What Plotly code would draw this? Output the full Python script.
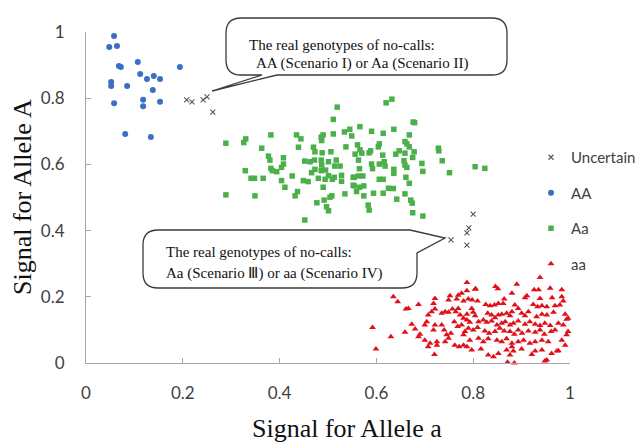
import plotly.graph_objects as go

# ---------------- data ----------------
unc_x = [0.208, 0.219, 0.242, 0.250, 0.262, 0.754, 0.787, 0.791, 0.787, 0.800]
unc_y = [0.795, 0.789, 0.795, 0.804, 0.758, 0.372, 0.393, 0.408, 0.356, 0.450]

AA_x = [0.058, 0.048, 0.064, 0.068, 0.072, 0.107, 0.194, 0.112, 0.126, 0.140,
        0.153, 0.052, 0.052, 0.085, 0.138, 0.058, 0.118, 0.118, 0.153, 0.081,
        0.134]
AA_y = [0.988, 0.955, 0.958, 0.897, 0.894, 0.909, 0.894, 0.873, 0.858, 0.867,
        0.858, 0.849, 0.837, 0.837, 0.825, 0.785, 0.795, 0.776, 0.789, 0.692,
        0.683]

Aa_x = [0.519, 0.511, 0.289, 0.326, 0.330, 0.382, 0.435, 0.444, 0.490, 0.486,
        0.487, 0.511, 0.534, 0.545, 0.549, 0.363, 0.377, 0.380, 0.408, 0.439,
        0.470, 0.473, 0.488, 0.506, 0.537, 0.329, 0.341, 0.348, 0.366, 0.382,
        0.385, 0.394, 0.408, 0.404, 0.426, 0.452, 0.463, 0.472, 0.486, 0.487,
        0.501, 0.517, 0.514, 0.525, 0.473, 0.466, 0.486, 0.495, 0.501, 0.513,
        0.528, 0.552, 0.404, 0.411, 0.449, 0.459, 0.480, 0.494, 0.509, 0.528,
        0.490, 0.552, 0.289, 0.349, 0.432, 0.437, 0.508, 0.504, 0.492, 0.477,
        0.497, 0.501, 0.535, 0.452,
        0.620, 0.632, 0.676, 0.679, 0.566, 0.590, 0.614, 0.636, 0.668, 0.561,
        0.566, 0.570, 0.556, 0.585, 0.588, 0.606, 0.604, 0.613, 0.640, 0.647,
        0.659, 0.663, 0.668, 0.678, 0.659, 0.675, 0.728, 0.729, 0.736, 0.694,
        0.696, 0.751, 0.804, 0.824, 0.563, 0.590, 0.592, 0.606, 0.616, 0.618,
        0.636, 0.636, 0.657, 0.659, 0.663, 0.565, 0.554, 0.563, 0.572, 0.606,
        0.614, 0.661, 0.668, 0.554, 0.565, 0.574, 0.559, 0.625, 0.635, 0.574,
        0.594, 0.614, 0.642, 0.659, 0.671, 0.674, 0.583, 0.585, 0.675, 0.696]
Aa_y = [0.773, 0.736, 0.664, 0.666, 0.677, 0.689, 0.689, 0.677, 0.689, 0.682,
        0.672, 0.692, 0.698, 0.706, 0.686, 0.649, 0.625, 0.613, 0.620, 0.652,
        0.652, 0.638, 0.635, 0.638, 0.653, 0.581, 0.558, 0.558, 0.558, 0.588,
        0.581, 0.578, 0.601, 0.591, 0.565, 0.610, 0.608, 0.613, 0.613, 0.598,
        0.608, 0.613, 0.595, 0.595, 0.585, 0.575, 0.581, 0.583, 0.566, 0.561,
        0.567, 0.561, 0.551, 0.531, 0.551, 0.548, 0.558, 0.555, 0.555, 0.549,
        0.531, 0.537, 0.508, 0.505, 0.505, 0.518, 0.505, 0.501, 0.492, 0.484,
        0.472, 0.460, 0.511, 0.432,
        0.786, 0.797, 0.728, 0.726, 0.714, 0.700, 0.694, 0.706, 0.689, 0.659,
        0.644, 0.634, 0.631, 0.635, 0.641, 0.662, 0.653, 0.628, 0.631, 0.641,
        0.669, 0.662, 0.653, 0.638, 0.634, 0.621, 0.649, 0.641, 0.611, 0.603,
        0.579, 0.575, 0.593, 0.588, 0.613, 0.601, 0.587, 0.601, 0.608, 0.595,
        0.585, 0.573, 0.611, 0.598, 0.591, 0.587, 0.561, 0.565, 0.565, 0.555,
        0.555, 0.561, 0.543, 0.535, 0.531, 0.535, 0.518, 0.528, 0.527, 0.505,
        0.513, 0.513, 0.495, 0.511, 0.492, 0.483, 0.477, 0.462, 0.454, 0.444]

aa_x = [0.635, 0.644, 0.661, 0.666, 0.687, 0.721, 0.718, 0.749, 0.752, 0.769,
        0.776, 0.787, 0.766, 0.780, 0.592, 0.599, 0.630, 0.659, 0.673, 0.680,
        0.687, 0.690, 0.700, 0.704, 0.707, 0.714, 0.721, 0.700, 0.711, 0.707,
        0.718, 0.721, 0.725, 0.725, 0.720, 0.735, 0.742, 0.749, 0.735, 0.740,
        0.745, 0.749, 0.754, 0.742, 0.757, 0.764, 0.769, 0.761, 0.768, 0.776,
        0.762, 0.771, 0.780, 0.787, 0.773, 0.780, 0.787, 0.780, 0.783,
        0.938, 0.890, 0.846, 0.851, 0.926, 0.935, 0.959, 0.805, 0.880, 0.907,
        0.911, 0.938, 0.963, 0.983, 0.986, 0.790, 0.798, 0.809, 0.826, 0.835,
        0.844, 0.852, 0.864, 0.862, 0.886, 0.893, 0.924, 0.933, 0.942, 0.952,
        0.969, 0.979, 0.797, 0.800, 0.804, 0.830, 0.838, 0.845, 0.852, 0.859,
        0.869, 0.876, 0.880, 0.900, 0.907, 0.914, 0.931, 0.942, 0.952, 0.966,
        0.990, 0.996, 0.787, 0.793, 0.811, 0.821, 0.828, 0.838, 0.849, 0.859,
        0.866, 0.876, 0.883, 0.893, 0.907, 0.917, 0.928, 0.938, 0.948, 0.959,
        0.976, 0.986, 0.790, 0.800, 0.809, 0.824, 0.833, 0.845, 0.855, 0.864,
        0.876, 0.885, 0.893, 0.901, 0.914, 0.928, 0.938, 0.947, 0.961, 0.969,
        0.993, 0.996, 0.793, 0.811, 0.821, 0.831, 0.849, 0.859, 0.869, 0.880,
        0.893, 0.904, 0.917, 0.928, 0.942, 0.955, 0.983, 0.990, 0.797, 0.816,
        0.831, 0.842, 0.852, 0.869, 0.876, 0.880, 0.883, 0.900, 0.921, 0.928,
        0.942, 0.962, 0.973, 0.871, 0.885, 0.948, 0.787, 0.804, 0.983, 0.993,
        0.976, 0.952]
aa_y = [0.200, 0.185, 0.163, 0.165, 0.177, 0.195, 0.180, 0.190, 0.203, 0.205,
        0.211, 0.218, 0.193, 0.187, 0.107, 0.042, 0.079, 0.093, 0.117, 0.103,
        0.079, 0.087, 0.115, 0.125, 0.145, 0.155, 0.163, 0.069, 0.060, 0.049,
        0.100, 0.115, 0.064, 0.054, 0.026, 0.150, 0.155, 0.153, 0.115, 0.100,
        0.085, 0.075, 0.090, 0.064, 0.163, 0.155, 0.165, 0.125, 0.110, 0.115,
        0.054, 0.049, 0.054, 0.049, 0.145, 0.135, 0.147, 0.085, 0.095,
        0.258, 0.238, 0.231, 0.224, 0.221, 0.221, 0.226, 0.224, 0.211, 0.197,
        0.203, 0.195, 0.197, 0.200, 0.187, 0.193, 0.190, 0.187, 0.177, 0.173,
        0.175, 0.180, 0.193, 0.180, 0.175, 0.165, 0.177, 0.170, 0.173, 0.170,
        0.173, 0.175, 0.165, 0.153, 0.143, 0.150, 0.145, 0.137, 0.145, 0.147,
        0.150, 0.143, 0.155, 0.150, 0.143, 0.155, 0.140, 0.147, 0.145, 0.153,
        0.147, 0.135, 0.130, 0.123, 0.125, 0.130, 0.123, 0.127, 0.115, 0.120,
        0.125, 0.115, 0.120, 0.127, 0.117, 0.125, 0.117, 0.113, 0.120, 0.113,
        0.120, 0.115, 0.105, 0.100, 0.107, 0.097, 0.090, 0.095, 0.105, 0.097,
        0.095, 0.087, 0.100, 0.090, 0.097, 0.093, 0.100, 0.087, 0.095, 0.100,
        0.085, 0.095, 0.069, 0.075, 0.064, 0.073, 0.069, 0.064, 0.073, 0.060,
        0.064, 0.069, 0.060, 0.064, 0.069, 0.064, 0.069, 0.054, 0.039, 0.042,
        0.024, 0.019, 0.029, 0.039, 0.024, 0.049, 0.036, 0.042, 0.026, 0.036,
        0.039, 0.029, 0.036, 0.002, 0.000, 0.006, 0.243, 0.223, 0.221, 0.132,
        0.037, 0.009]

tick_vals = [0, 0.2, 0.4, 0.6, 0.8, 1]
tick_text = ["0", "0.2", "0.4", "0.6", "0.8", "1"]

callout1 = ["The real genotypes of no-calls:", "AA (Scenario I) or Aa (Scenario II)"]
callout2 = ["The real genotypes of no-calls:", "Aa (Scenario \u2162) or aa (Scenario IV)"]

# ---------------- layout geometry (window pixels) ----------------
O = 8                      # default page (body) margin of the browser
WIN_W, WIN_H = 644, 442
FW, FH = WIN_W - O, WIN_H - O
PX0, PX1, PY0, PY1 = 86, 570, 32, 363   # plot area in window pixels
L = PX0 - O
R = FW - (PX1 - O)
T = PY0 - O
B = FH - (PY1 - O)
PW = PX1 - PX0
PH = PY1 - PY0


def fx(px):
    return (px - PX0) / PW


def fy(py):
    return (PY1 - py) / PH


def pt(px, py):
    return f"{fx(px):.5f},{fy(py):.5f}"


def bubble_path(x0, y0, x1, y1, r, kind):
    p = [f"M {pt(x0 + r, y0)}"]
    if kind == "top_right":
        p.append(f"L {pt(410, y0)}")
        p.append(f"L {pt(445, 238)}")
        p.append(f"L {pt(x1, 253)}")
    else:
        p.append(f"L {pt(x1 - r, y0)}")
        p.append(f"Q {pt(x1, y0)} {pt(x1, y0 + r)}")
    p.append(f"L {pt(x1, y1 - r)}")
    p.append(f"Q {pt(x1, y1)} {pt(x1 - r, y1)}")
    if kind == "bottom_left":
        p.append(f"L {pt(277, y1)}")
        p.append(f"L {pt(212, 91)}")
        p.append(f"L {pt(262, y1)}")
    p.append(f"L {pt(x0 + r, y1)}")
    p.append(f"Q {pt(x0, y1)} {pt(x0, y1 - r)}")
    p.append(f"L {pt(x0, y0 + r)}")
    p.append(f"Q {pt(x0, y0)} {pt(x0 + r, y0)}")
    p.append("Z")
    return " ".join(p)


fig = go.Figure()

fig.add_trace(go.Scatter(
    x=AA_x, y=AA_y, mode="markers", name="AA", legendgroup="AA", legendrank=2,
    marker=dict(symbol="circle", size=6, color="#3b6fc6"), cliponaxis=False))
fig.add_trace(go.Scatter(
    x=Aa_x, y=Aa_y, mode="markers", name="Aa", legendgroup="Aa", legendrank=3,
    marker=dict(symbol="square", size=5.5, color="#4cb04a"), cliponaxis=False))
fig.add_trace(go.Scatter(
    x=aa_x, y=aa_y, mode="markers", name="aa", legendgroup="aa", legendrank=4,
    marker=dict(symbol="triangle-up", size=6, color="#e0101a"), cliponaxis=False))
fig.add_trace(go.Scatter(
    x=unc_x, y=unc_y, mode="markers", name="Uncertain", legendgroup="unc", legendrank=1,
    marker=dict(symbol="x-thin", size=5, line=dict(color="#555555", width=1.1)),
    cliponaxis=False))

axis_common = dict(
    range=[0, 1], tickvals=tick_vals, ticktext=tick_text,
    showline=True, linecolor="#a6a6a6", linewidth=1,
    ticks="inside", ticklen=5, tickcolor="#a6a6a6",
    showgrid=False, zeroline=False, fixedrange=True, automargin=False,
    tickfont=dict(family="Lato", size=17, color="#404040"),
)
fig.update_xaxes(**axis_common, ticklabelstandoff=15)
fig.update_yaxes(**axis_common, ticklabelstandoff=17)

shapes = [
    dict(type="path", xref="paper", yref="paper",
         path=bubble_path(226, 18, 507, 75, 15, "bottom_left"),
         line=dict(color="#3a3a3a", width=1.3), fillcolor="white", layer="above"),
    dict(type="path", xref="paper", yref="paper",
         path=bubble_path(143, 230, 417, 288, 15, "top_right"),
         line=dict(color="#3a3a3a", width=1.3), fillcolor="white", layer="above"),
]

serif = "Liberation Serif"
ann = []
for text, px, py in [(callout1[0], 247, 45), (callout1[1], 254, 63),
                     (callout2[0], 164, 252), (callout2[1], 164, 273)]:
    ann.append(dict(text=text, x=fx(px), y=fy(py), xref="paper", yref="paper",
                    xanchor="left", yanchor="middle", showarrow=False,
                    font=dict(family=serif, size=15, color="#111111")))
ann.append(dict(text="Signal for Allele a", x=fx(347), y=fy(428), xref="paper", yref="paper",
                xanchor="center", yanchor="middle", showarrow=False,
                font=dict(family=serif, size=26, color="#111111")))
ann.append(dict(text="Signal for Allele A", x=fx(22), y=fy(197), xref="paper", yref="paper",
                xanchor="center", yanchor="middle", showarrow=False, textangle=-90,
                font=dict(family=serif, size=26, color="#111111")))

fig.update_layout(
    width=FW, height=FH,
    margin=dict(l=L, r=R, t=T, b=B, pad=0, autoexpand=False),
    paper_bgcolor="white", plot_bgcolor="white",
    shapes=shapes, annotations=ann,
    showlegend=True,
    legend=dict(xref="container", yref="container",
                x=(531 - O) / FW, y=1 - (141 - O) / FH, xanchor="left", yanchor="top",
                bgcolor="rgba(0,0,0,0)", tracegroupgap=13,
                font=dict(family="Lato", size=15, color="#404040")),
)

fig.write_html("out.html")
